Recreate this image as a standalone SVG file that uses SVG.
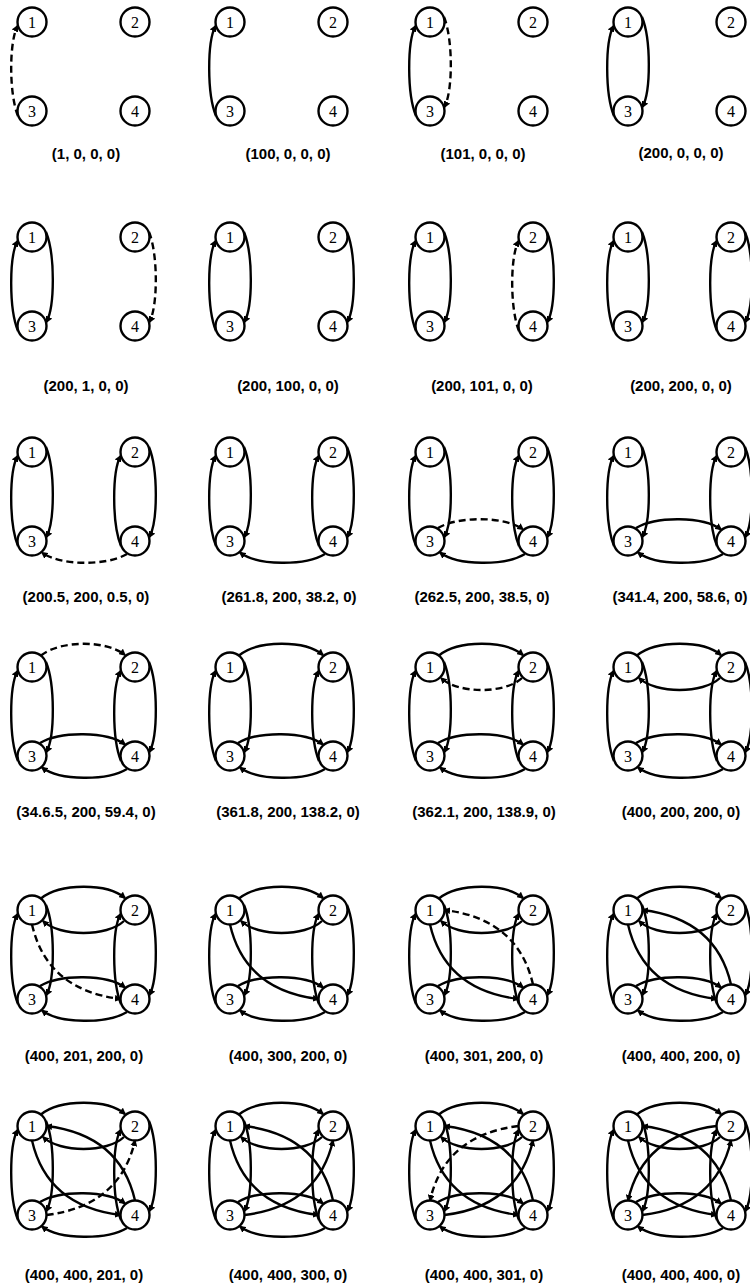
<svg xmlns="http://www.w3.org/2000/svg" width="750" height="1288" viewBox="0 0 750 1288">
<style>
.n circle{fill:#fff;stroke:#000;stroke-width:2.4}
.n text{font-family:"Liberation Serif","Times New Roman",serif;font-size:16px;text-anchor:middle;fill:#000}
.e path{fill:none;stroke:#000;stroke-width:2.4;marker-end:url(#ah)}
.e path.d{stroke-dasharray:7 4}
.lbl{font-family:"Liberation Sans",Arial,sans-serif;font-weight:bold;font-size:15px;text-anchor:middle;fill:#000}
</style>
<defs>
<marker id="ah" viewBox="0 0 10 10" refX="8" refY="5" markerWidth="7" markerHeight="7" markerUnits="userSpaceOnUse" orient="auto"><path d="M0,0 L10,5 L0,10 z" fill="#000"/></marker>
</defs>
<rect width="750" height="1288" fill="#fff"/>

<!-- Row 1 -->
<g id="p1" transform="translate(32,22)">
<g class="e"><path class="d" d="M-14,94 C-23,72 -23,20 -14.5,4"/></g>
<g id="p1-n1" class="n"><circle r="14.5"/><text y="5.5">1</text></g>
<g id="p1-n2" class="n" transform="translate(103,0)"><circle r="14.5"/><text y="5.5">2</text></g>
<g id="p1-n3" class="n" transform="translate(0,89)"><circle r="14.5"/><text y="5.5">3</text></g>
<g id="p1-n4" class="n" transform="translate(103,89)"><circle r="14.5"/><text y="5.5">4</text></g>
</g>
<g id="p2" transform="translate(230,22)">
<g class="e"><path d="M-14,94 C-23,72 -23,20 -14.5,4"/></g>
<g id="p2-n1" class="n"><circle r="14.5"/><text y="5.5">1</text></g>
<g id="p2-n2" class="n" transform="translate(103,0)"><circle r="14.5"/><text y="5.5">2</text></g>
<g id="p2-n3" class="n" transform="translate(0,89)"><circle r="14.5"/><text y="5.5">3</text></g>
<g id="p2-n4" class="n" transform="translate(103,89)"><circle r="14.5"/><text y="5.5">4</text></g>
</g>
<g id="p3" transform="translate(430,22)">
<g class="e"><path d="M-14,94 C-23,72 -23,20 -14.5,4"/><path class="d" d="M14,-5 C23,17 23,69 14.5,85"/></g>
<g id="p3-n1" class="n"><circle r="14.5"/><text y="5.5">1</text></g>
<g id="p3-n2" class="n" transform="translate(103,0)"><circle r="14.5"/><text y="5.5">2</text></g>
<g id="p3-n3" class="n" transform="translate(0,89)"><circle r="14.5"/><text y="5.5">3</text></g>
<g id="p3-n4" class="n" transform="translate(103,89)"><circle r="14.5"/><text y="5.5">4</text></g>
</g>
<g id="p4" transform="translate(628,22)">
<g class="e"><path d="M-14,94 C-23,72 -23,20 -14.5,4"/><path d="M14,-5 C23,17 23,69 14.5,85"/></g>
<g id="p4-n1" class="n"><circle r="14.5"/><text y="5.5">1</text></g>
<g id="p4-n2" class="n" transform="translate(103,0)"><circle r="14.5"/><text y="5.5">2</text></g>
<g id="p4-n3" class="n" transform="translate(0,89)"><circle r="14.5"/><text y="5.5">3</text></g>
<g id="p4-n4" class="n" transform="translate(103,89)"><circle r="14.5"/><text y="5.5">4</text></g>
</g>

<!-- Row 2 -->
<g id="p5" transform="translate(32,237)">
<g class="e"><path d="M-14,94 C-23,72 -23,20 -14.5,4"/><path d="M14,-5 C23,17 23,69 14.5,85"/><path class="d" d="M117,-5 C126,17 126,69 117.5,85"/></g>
<g id="p5-n1" class="n"><circle r="14.5"/><text y="5.5">1</text></g>
<g id="p5-n2" class="n" transform="translate(103,0)"><circle r="14.5"/><text y="5.5">2</text></g>
<g id="p5-n3" class="n" transform="translate(0,89)"><circle r="14.5"/><text y="5.5">3</text></g>
<g id="p5-n4" class="n" transform="translate(103,89)"><circle r="14.5"/><text y="5.5">4</text></g>
</g>
<g id="p6" transform="translate(230,237)">
<g class="e"><path d="M-14,94 C-23,72 -23,20 -14.5,4"/><path d="M14,-5 C23,17 23,69 14.5,85"/><path d="M117,-5 C126,17 126,69 117.5,85"/></g>
<g id="p6-n1" class="n"><circle r="14.5"/><text y="5.5">1</text></g>
<g id="p6-n2" class="n" transform="translate(103,0)"><circle r="14.5"/><text y="5.5">2</text></g>
<g id="p6-n3" class="n" transform="translate(0,89)"><circle r="14.5"/><text y="5.5">3</text></g>
<g id="p6-n4" class="n" transform="translate(103,89)"><circle r="14.5"/><text y="5.5">4</text></g>
</g>
<g id="p7" transform="translate(430,237)">
<g class="e"><path d="M-14,94 C-23,72 -23,20 -14.5,4"/><path d="M14,-5 C23,17 23,69 14.5,85"/><path d="M117,-5 C126,17 126,69 117.5,85"/><path class="d" d="M89,94 C80,72 80,20 88.5,4"/></g>
<g id="p7-n1" class="n"><circle r="14.5"/><text y="5.5">1</text></g>
<g id="p7-n2" class="n" transform="translate(103,0)"><circle r="14.5"/><text y="5.5">2</text></g>
<g id="p7-n3" class="n" transform="translate(0,89)"><circle r="14.5"/><text y="5.5">3</text></g>
<g id="p7-n4" class="n" transform="translate(103,89)"><circle r="14.5"/><text y="5.5">4</text></g>
</g>
<g id="p8" transform="translate(628,237)">
<g class="e"><path d="M-14,94 C-23,72 -23,20 -14.5,4"/><path d="M14,-5 C23,17 23,69 14.5,85"/><path d="M117,-5 C126,17 126,69 117.5,85"/><path d="M89,94 C80,72 80,20 88.5,4"/></g>
<g id="p8-n1" class="n"><circle r="14.5"/><text y="5.5">1</text></g>
<g id="p8-n2" class="n" transform="translate(103,0)"><circle r="14.5"/><text y="5.5">2</text></g>
<g id="p8-n3" class="n" transform="translate(0,89)"><circle r="14.5"/><text y="5.5">3</text></g>
<g id="p8-n4" class="n" transform="translate(103,89)"><circle r="14.5"/><text y="5.5">4</text></g>
</g>

<!-- Row 3 -->
<g id="p9" transform="translate(32,452)">
<g class="e"><path d="M-14,94 C-23,72 -23,20 -14.5,4"/><path d="M14,-5 C23,17 23,69 14.5,85"/><path d="M117,-5 C126,17 126,69 117.5,85"/><path d="M89,94 C80,72 80,20 88.5,4"/><path class="d" d="M95,102 C75,114 28,114 10,100.5"/></g>
<g id="p9-n1" class="n"><circle r="14.5"/><text y="5.5">1</text></g>
<g id="p9-n2" class="n" transform="translate(103,0)"><circle r="14.5"/><text y="5.5">2</text></g>
<g id="p9-n3" class="n" transform="translate(0,89)"><circle r="14.5"/><text y="5.5">3</text></g>
<g id="p9-n4" class="n" transform="translate(103,89)"><circle r="14.5"/><text y="5.5">4</text></g>
</g>
<g id="p10" transform="translate(230,452)">
<g class="e"><path d="M-14,94 C-23,72 -23,20 -14.5,4"/><path d="M14,-5 C23,17 23,69 14.5,85"/><path d="M117,-5 C126,17 126,69 117.5,85"/><path d="M89,94 C80,72 80,20 88.5,4"/><path d="M95,102 C75,114 28,114 10,100.5"/></g>
<g id="p10-n1" class="n"><circle r="14.5"/><text y="5.5">1</text></g>
<g id="p10-n2" class="n" transform="translate(103,0)"><circle r="14.5"/><text y="5.5">2</text></g>
<g id="p10-n3" class="n" transform="translate(0,89)"><circle r="14.5"/><text y="5.5">3</text></g>
<g id="p10-n4" class="n" transform="translate(103,89)"><circle r="14.5"/><text y="5.5">4</text></g>
</g>
<g id="p11" transform="translate(430,452)">
<g class="e"><path d="M-14,94 C-23,72 -23,20 -14.5,4"/><path d="M14,-5 C23,17 23,69 14.5,85"/><path d="M117,-5 C126,17 126,69 117.5,85"/><path d="M89,94 C80,72 80,20 88.5,4"/><path d="M95,102 C75,114 28,114 10,100.5"/><path class="d" d="M8,76 C28,64 75,64 93,77.5"/></g>
<g id="p11-n1" class="n"><circle r="14.5"/><text y="5.5">1</text></g>
<g id="p11-n2" class="n" transform="translate(103,0)"><circle r="14.5"/><text y="5.5">2</text></g>
<g id="p11-n3" class="n" transform="translate(0,89)"><circle r="14.5"/><text y="5.5">3</text></g>
<g id="p11-n4" class="n" transform="translate(103,89)"><circle r="14.5"/><text y="5.5">4</text></g>
</g>
<g id="p12" transform="translate(628,452)">
<g class="e"><path d="M-14,94 C-23,72 -23,20 -14.5,4"/><path d="M14,-5 C23,17 23,69 14.5,85"/><path d="M117,-5 C126,17 126,69 117.5,85"/><path d="M89,94 C80,72 80,20 88.5,4"/><path d="M95,102 C75,114 28,114 10,100.5"/><path d="M8,76 C28,64 75,64 93,77.5"/></g>
<g id="p12-n1" class="n"><circle r="14.5"/><text y="5.5">1</text></g>
<g id="p12-n2" class="n" transform="translate(103,0)"><circle r="14.5"/><text y="5.5">2</text></g>
<g id="p12-n3" class="n" transform="translate(0,89)"><circle r="14.5"/><text y="5.5">3</text></g>
<g id="p12-n4" class="n" transform="translate(103,89)"><circle r="14.5"/><text y="5.5">4</text></g>
</g>

<!-- Row 4 -->
<g id="p13" transform="translate(32,667)">
<g class="e"><path d="M-14,94 C-23,72 -23,20 -14.5,4"/><path d="M14,-5 C23,17 23,69 14.5,85"/><path d="M117,-5 C126,17 126,69 117.5,85"/><path d="M89,94 C80,72 80,20 88.5,4"/><path d="M95,102 C75,114 28,114 10,100.5"/><path d="M8,76 C28,64 75,64 93,77.5"/><path class="d" d="M9,-11.5 C28,-27 75,-27 93,-12"/></g>
<g id="p13-n1" class="n"><circle r="14.5"/><text y="5.5">1</text></g>
<g id="p13-n2" class="n" transform="translate(103,0)"><circle r="14.5"/><text y="5.5">2</text></g>
<g id="p13-n3" class="n" transform="translate(0,89)"><circle r="14.5"/><text y="5.5">3</text></g>
<g id="p13-n4" class="n" transform="translate(103,89)"><circle r="14.5"/><text y="5.5">4</text></g>
</g>
<g id="p14" transform="translate(230,667)">
<g class="e"><path d="M-14,94 C-23,72 -23,20 -14.5,4"/><path d="M14,-5 C23,17 23,69 14.5,85"/><path d="M117,-5 C126,17 126,69 117.5,85"/><path d="M89,94 C80,72 80,20 88.5,4"/><path d="M95,102 C75,114 28,114 10,100.5"/><path d="M8,76 C28,64 75,64 93,77.5"/><path d="M9,-11.5 C28,-27 75,-27 93,-12"/></g>
<g id="p14-n1" class="n"><circle r="14.5"/><text y="5.5">1</text></g>
<g id="p14-n2" class="n" transform="translate(103,0)"><circle r="14.5"/><text y="5.5">2</text></g>
<g id="p14-n3" class="n" transform="translate(0,89)"><circle r="14.5"/><text y="5.5">3</text></g>
<g id="p14-n4" class="n" transform="translate(103,89)"><circle r="14.5"/><text y="5.5">4</text></g>
</g>
<g id="p15" transform="translate(430,667)">
<g class="e"><path d="M-14,94 C-23,72 -23,20 -14.5,4"/><path d="M14,-5 C23,17 23,69 14.5,85"/><path d="M117,-5 C126,17 126,69 117.5,85"/><path d="M89,94 C80,72 80,20 88.5,4"/><path d="M95,102 C75,114 28,114 10,100.5"/><path d="M8,76 C28,64 75,64 93,77.5"/><path d="M9,-11.5 C28,-27 75,-27 93,-12"/><path class="d" d="M92,11 C75,27 28,27 11,11"/></g>
<g id="p15-n1" class="n"><circle r="14.5"/><text y="5.5">1</text></g>
<g id="p15-n2" class="n" transform="translate(103,0)"><circle r="14.5"/><text y="5.5">2</text></g>
<g id="p15-n3" class="n" transform="translate(0,89)"><circle r="14.5"/><text y="5.5">3</text></g>
<g id="p15-n4" class="n" transform="translate(103,89)"><circle r="14.5"/><text y="5.5">4</text></g>
</g>
<g id="p16" transform="translate(628,667)">
<g class="e"><path d="M-14,94 C-23,72 -23,20 -14.5,4"/><path d="M14,-5 C23,17 23,69 14.5,85"/><path d="M117,-5 C126,17 126,69 117.5,85"/><path d="M89,94 C80,72 80,20 88.5,4"/><path d="M95,102 C75,114 28,114 10,100.5"/><path d="M8,76 C28,64 75,64 93,77.5"/><path d="M9,-11.5 C28,-27 75,-27 93,-12"/><path d="M92,11 C75,27 28,27 11,11"/></g>
<g id="p16-n1" class="n"><circle r="14.5"/><text y="5.5">1</text></g>
<g id="p16-n2" class="n" transform="translate(103,0)"><circle r="14.5"/><text y="5.5">2</text></g>
<g id="p16-n3" class="n" transform="translate(0,89)"><circle r="14.5"/><text y="5.5">3</text></g>
<g id="p16-n4" class="n" transform="translate(103,89)"><circle r="14.5"/><text y="5.5">4</text></g>
</g>

<!-- Row 5 -->
<g id="p17" transform="translate(32,910)">
<g class="e"><path d="M-14,94 C-23,72 -23,20 -14.5,4"/><path d="M14,-5 C23,17 23,69 14.5,85"/><path d="M117,-5 C126,17 126,69 117.5,85"/><path d="M89,94 C80,72 80,20 88.5,4"/><path d="M95,102 C75,114 28,114 10,100.5"/><path d="M8,76 C28,64 75,64 93,77.5"/><path d="M9,-11.5 C28,-27 75,-27 93,-12"/><path d="M92,11 C75,27 28,27 11,11"/><path class="d" d="M0,14.5 Q15,80 88.5,89"/></g>
<g id="p17-n1" class="n"><circle r="14.5"/><text y="5.5">1</text></g>
<g id="p17-n2" class="n" transform="translate(103,0)"><circle r="14.5"/><text y="5.5">2</text></g>
<g id="p17-n3" class="n" transform="translate(0,89)"><circle r="14.5"/><text y="5.5">3</text></g>
<g id="p17-n4" class="n" transform="translate(103,89)"><circle r="14.5"/><text y="5.5">4</text></g>
</g>
<g id="p18" transform="translate(230,910)">
<g class="e"><path d="M-14,94 C-23,72 -23,20 -14.5,4"/><path d="M14,-5 C23,17 23,69 14.5,85"/><path d="M117,-5 C126,17 126,69 117.5,85"/><path d="M89,94 C80,72 80,20 88.5,4"/><path d="M95,102 C75,114 28,114 10,100.5"/><path d="M8,76 C28,64 75,64 93,77.5"/><path d="M9,-11.5 C28,-27 75,-27 93,-12"/><path d="M92,11 C75,27 28,27 11,11"/><path d="M0,14.5 Q15,80 88.5,89"/></g>
<g id="p18-n1" class="n"><circle r="14.5"/><text y="5.5">1</text></g>
<g id="p18-n2" class="n" transform="translate(103,0)"><circle r="14.5"/><text y="5.5">2</text></g>
<g id="p18-n3" class="n" transform="translate(0,89)"><circle r="14.5"/><text y="5.5">3</text></g>
<g id="p18-n4" class="n" transform="translate(103,89)"><circle r="14.5"/><text y="5.5">4</text></g>
</g>
<g id="p19" transform="translate(430,910)">
<g class="e"><path d="M-14,94 C-23,72 -23,20 -14.5,4"/><path d="M14,-5 C23,17 23,69 14.5,85"/><path d="M117,-5 C126,17 126,69 117.5,85"/><path d="M89,94 C80,72 80,20 88.5,4"/><path d="M95,102 C75,114 28,114 10,100.5"/><path d="M8,76 C28,64 75,64 93,77.5"/><path d="M9,-11.5 C28,-27 75,-27 93,-12"/><path d="M92,11 C75,27 28,27 11,11"/><path d="M0,14.5 Q15,80 88.5,89"/><path class="d" d="M103,74.5 Q88,9 14.5,0"/></g>
<g id="p19-n1" class="n"><circle r="14.5"/><text y="5.5">1</text></g>
<g id="p19-n2" class="n" transform="translate(103,0)"><circle r="14.5"/><text y="5.5">2</text></g>
<g id="p19-n3" class="n" transform="translate(0,89)"><circle r="14.5"/><text y="5.5">3</text></g>
<g id="p19-n4" class="n" transform="translate(103,89)"><circle r="14.5"/><text y="5.5">4</text></g>
</g>
<g id="p20" transform="translate(628,910)">
<g class="e"><path d="M-14,94 C-23,72 -23,20 -14.5,4"/><path d="M14,-5 C23,17 23,69 14.5,85"/><path d="M117,-5 C126,17 126,69 117.5,85"/><path d="M89,94 C80,72 80,20 88.5,4"/><path d="M95,102 C75,114 28,114 10,100.5"/><path d="M8,76 C28,64 75,64 93,77.5"/><path d="M9,-11.5 C28,-27 75,-27 93,-12"/><path d="M92,11 C75,27 28,27 11,11"/><path d="M0,14.5 Q15,80 88.5,89"/><path d="M103,74.5 Q88,9 14.5,0"/></g>
<g id="p20-n1" class="n"><circle r="14.5"/><text y="5.5">1</text></g>
<g id="p20-n2" class="n" transform="translate(103,0)"><circle r="14.5"/><text y="5.5">2</text></g>
<g id="p20-n3" class="n" transform="translate(0,89)"><circle r="14.5"/><text y="5.5">3</text></g>
<g id="p20-n4" class="n" transform="translate(103,89)"><circle r="14.5"/><text y="5.5">4</text></g>
</g>

<!-- Row 6 -->
<g id="p21" transform="translate(32,1126)">
<g class="e"><path d="M-14,94 C-23,72 -23,20 -14.5,4"/><path d="M14,-5 C23,17 23,69 14.5,85"/><path d="M117,-5 C126,17 126,69 117.5,85"/><path d="M89,94 C80,72 80,20 88.5,4"/><path d="M95,102 C75,114 28,114 10,100.5"/><path d="M8,76 C28,64 75,64 93,77.5"/><path d="M9,-11.5 C28,-27 75,-27 93,-12"/><path d="M92,11 C75,27 28,27 11,11"/><path d="M0,14.5 Q15,80 88.5,89"/><path d="M103,74.5 Q88,9 14.5,0"/><path class="d" d="M14.5,89 Q88,80 103,14.5"/></g>
<g id="p21-n1" class="n"><circle r="14.5"/><text y="5.5">1</text></g>
<g id="p21-n2" class="n" transform="translate(103,0)"><circle r="14.5"/><text y="5.5">2</text></g>
<g id="p21-n3" class="n" transform="translate(0,89)"><circle r="14.5"/><text y="5.5">3</text></g>
<g id="p21-n4" class="n" transform="translate(103,89)"><circle r="14.5"/><text y="5.5">4</text></g>
</g>
<g id="p22" transform="translate(230,1126)">
<g class="e"><path d="M-14,94 C-23,72 -23,20 -14.5,4"/><path d="M14,-5 C23,17 23,69 14.5,85"/><path d="M117,-5 C126,17 126,69 117.5,85"/><path d="M89,94 C80,72 80,20 88.5,4"/><path d="M95,102 C75,114 28,114 10,100.5"/><path d="M8,76 C28,64 75,64 93,77.5"/><path d="M9,-11.5 C28,-27 75,-27 93,-12"/><path d="M92,11 C75,27 28,27 11,11"/><path d="M0,14.5 Q15,80 88.5,89"/><path d="M103,74.5 Q88,9 14.5,0"/><path d="M14.5,89 Q88,80 103,14.5"/></g>
<g id="p22-n1" class="n"><circle r="14.5"/><text y="5.5">1</text></g>
<g id="p22-n2" class="n" transform="translate(103,0)"><circle r="14.5"/><text y="5.5">2</text></g>
<g id="p22-n3" class="n" transform="translate(0,89)"><circle r="14.5"/><text y="5.5">3</text></g>
<g id="p22-n4" class="n" transform="translate(103,89)"><circle r="14.5"/><text y="5.5">4</text></g>
</g>
<g id="p23" transform="translate(430,1126)">
<g class="e"><path d="M-14,94 C-23,72 -23,20 -14.5,4"/><path d="M14,-5 C23,17 23,69 14.5,85"/><path d="M117,-5 C126,17 126,69 117.5,85"/><path d="M89,94 C80,72 80,20 88.5,4"/><path d="M95,102 C75,114 28,114 10,100.5"/><path d="M8,76 C28,64 75,64 93,77.5"/><path d="M9,-11.5 C28,-27 75,-27 93,-12"/><path d="M92,11 C75,27 28,27 11,11"/><path d="M0,14.5 Q15,80 88.5,89"/><path d="M103,74.5 Q88,9 14.5,0"/><path d="M14.5,89 Q88,80 103,14.5"/><path class="d" d="M88.5,0 Q15,9 0,74.5"/></g>
<g id="p23-n1" class="n"><circle r="14.5"/><text y="5.5">1</text></g>
<g id="p23-n2" class="n" transform="translate(103,0)"><circle r="14.5"/><text y="5.5">2</text></g>
<g id="p23-n3" class="n" transform="translate(0,89)"><circle r="14.5"/><text y="5.5">3</text></g>
<g id="p23-n4" class="n" transform="translate(103,89)"><circle r="14.5"/><text y="5.5">4</text></g>
</g>
<g id="p24" transform="translate(628,1126)">
<g class="e"><path d="M-14,94 C-23,72 -23,20 -14.5,4"/><path d="M14,-5 C23,17 23,69 14.5,85"/><path d="M117,-5 C126,17 126,69 117.5,85"/><path d="M89,94 C80,72 80,20 88.5,4"/><path d="M95,102 C75,114 28,114 10,100.5"/><path d="M8,76 C28,64 75,64 93,77.5"/><path d="M9,-11.5 C28,-27 75,-27 93,-12"/><path d="M92,11 C75,27 28,27 11,11"/><path d="M0,14.5 Q15,80 88.5,89"/><path d="M103,74.5 Q88,9 14.5,0"/><path d="M14.5,89 Q88,80 103,14.5"/><path d="M88.5,0 Q15,9 0,74.5"/></g>
<g id="p24-n1" class="n"><circle r="14.5"/><text y="5.5">1</text></g>
<g id="p24-n2" class="n" transform="translate(103,0)"><circle r="14.5"/><text y="5.5">2</text></g>
<g id="p24-n3" class="n" transform="translate(0,89)"><circle r="14.5"/><text y="5.5">3</text></g>
<g id="p24-n4" class="n" transform="translate(103,89)"><circle r="14.5"/><text y="5.5">4</text></g>
</g>

<g id="labels">
<text class="lbl" x="86" y="159">(1, 0, 0, 0)</text>
<text class="lbl" x="288" y="159">(100, 0, 0, 0)</text>
<text class="lbl" x="483" y="159">(101, 0, 0, 0)</text>
<text class="lbl" x="681" y="158">(200, 0, 0, 0)</text>
<text class="lbl" x="86" y="391">(200, 1, 0, 0)</text>
<text class="lbl" x="288" y="391">(200, 100, 0, 0)</text>
<text class="lbl" x="482" y="391">(200, 101, 0, 0)</text>
<text class="lbl" x="681" y="391">(200, 200, 0, 0)</text>
<text class="lbl" x="86" y="602">(200.5, 200, 0.5, 0)</text>
<text class="lbl" x="289" y="602">(261.8, 200, 38.2, 0)</text>
<text class="lbl" x="482" y="602">(262.5, 200, 38.5, 0)</text>
<text class="lbl" x="680" y="602">(341.4, 200, 58.6, 0)</text>
<text class="lbl" x="86" y="817">(34.6.5, 200, 59.4, 0)</text>
<text class="lbl" x="288" y="817">(361.8, 200, 138.2, 0)</text>
<text class="lbl" x="484" y="817">(362.1, 200, 138.9, 0)</text>
<text class="lbl" x="681" y="817">(400, 200, 200, 0)</text>
<text class="lbl" x="84" y="1061">(400, 201, 200, 0)</text>
<text class="lbl" x="288" y="1061">(400, 300, 200, 0)</text>
<text class="lbl" x="484" y="1061">(400, 301, 200, 0)</text>
<text class="lbl" x="681" y="1061">(400, 400, 200, 0)</text>
<text class="lbl" x="84" y="1280">(400, 400, 201, 0)</text>
<text class="lbl" x="288" y="1280">(400, 400, 300, 0)</text>
<text class="lbl" x="484" y="1280">(400, 400, 301, 0)</text>
<text class="lbl" x="681" y="1280">(400, 400, 400, 0)</text>
</g>
</svg>
